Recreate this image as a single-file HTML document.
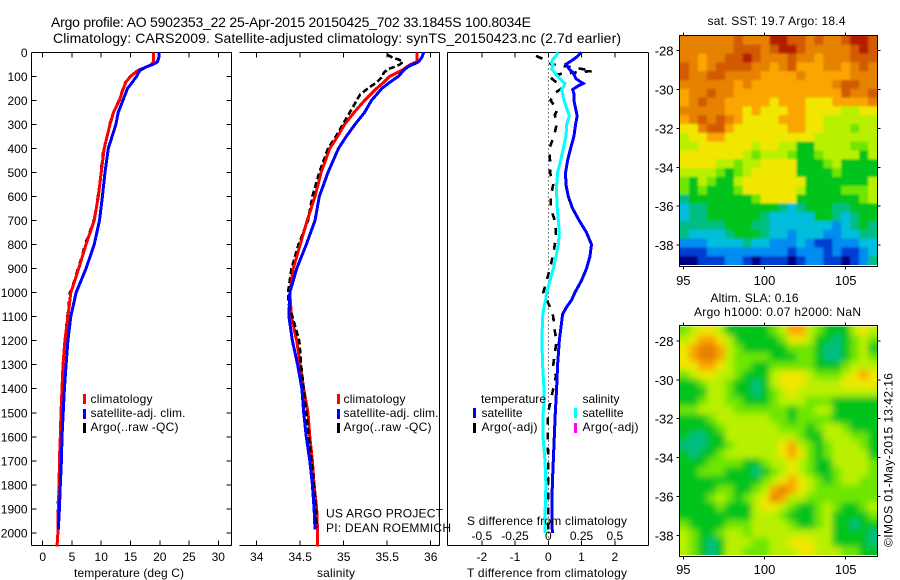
<!DOCTYPE html>
<html lang="en">
<head>
<meta charset="utf-8">
<title>Argo profile 5902353_22</title>
<style>
html,body{margin:0;padding:0;background:#fff;width:900px;height:580px;overflow:hidden}
svg{display:block;font-family:"Liberation Sans",sans-serif;font-size:12px;fill:#000}
text{fill:#000;stroke:none}
</style>
</head>
<body>
<svg id="figure" width="900" height="580" viewBox="0 0 900 580" xmlns="http://www.w3.org/2000/svg">
<defs>
<clipPath id="clip-sst"><rect x="680" y="36" width="197" height="229"/></clipPath>
<clipPath id="clip-sla"><rect x="680" y="326.5" width="197" height="228.5"/></clipPath>
<filter id="sst-smooth" filterUnits="userSpaceOnUse" x="640" y="10" width="280" height="280"><feGaussianBlur stdDeviation="1"/></filter>
<filter id="sla-smooth" filterUnits="userSpaceOnUse" x="640" y="290" width="280" height="300"><feGaussianBlur stdDeviation="3.2"/></filter>
</defs>
<text x="51" y="27" font-size="14" textLength="480">Argo profile: AO 5902353_22 25-Apr-2015 20150425_702 33.1845S 100.8034E</text>
<text x="53" y="43" font-size="14" textLength="568">Climatology: CARS2009. Satellite-adjusted climatology: synTS_20150423.nc (2.7d earlier)</text>

<g id="panel-t"></g>
<g id="panel-s"></g>
<g id="panel-d"></g>
<g id="map-sst"></g>
<g id="map-sla"></g>

<text x="74" y="577" textLength="110">temperature (deg C)</text>
<text x="317" y="577" textLength="38">salinity</text>
<text x="467" y="577" textLength="160">T difference from climatology</text>
<text x="467" y="525" textLength="160">S difference from climatology</text>
<text x="326" y="517.5" textLength="117">US ARGO PROJECT</text>
<text x="326" y="532" textLength="125">PI: DEAN ROEMMICH</text>

<g>
<rect x="83" y="394" width="3" height="10" fill="#f00"/>
<text x="90.5" y="403" textLength="62">climatology</text>
<rect x="83" y="409" width="3" height="10" fill="#00f"/>
<text x="90.5" y="417" textLength="95">satellite-adj. clim.</text>
<rect x="83" y="423" width="3" height="10" fill="#000"/>
<text x="90.5" y="431" textLength="88">Argo(..raw -QC)</text>
</g>
<g>
<rect x="337" y="394" width="3" height="10" fill="#f00"/>
<text x="343.5" y="403" textLength="62">climatology</text>
<rect x="337" y="409" width="3" height="10" fill="#00f"/>
<text x="343.5" y="417" textLength="95">satellite-adj. clim.</text>
<rect x="337" y="423" width="3" height="10" fill="#000"/>
<text x="343.5" y="431" textLength="88">Argo(..raw -QC)</text>
</g>
<g>
<text x="481" y="403" textLength="65">temperature</text>
<rect x="473" y="408" width="3" height="10" fill="#00f"/>
<text x="481.5" y="417" textLength="41">satellite</text>
<rect x="473" y="423" width="3" height="10" fill="#000"/>
<text x="481.5" y="431" textLength="56">Argo(-adj)</text>
<text x="582.5" y="403" textLength="37">salinity</text>
<rect x="574" y="408" width="3" height="10" fill="#0ff"/>
<text x="582.5" y="417" textLength="41">satellite</text>
<rect x="574" y="423" width="3" height="10" fill="#f0f"/>
<text x="582.5" y="431" textLength="56">Argo(-adj)</text>
</g>

<text x="707.5" y="25" textLength="138">sat. SST: 19.7 Argo: 18.4</text>
<text x="710.5" y="302" textLength="88">Altim. SLA: 0.16</text>
<text x="694" y="316" textLength="167">Argo h1000: 0.07 h2000: NaN</text>
<text transform="translate(892.5,547) rotate(-90)" x="0" y="0" textLength="174">©IMOS 01-May-2015 13:42:16</text>
</svg>

<script>
// ---------- profile data ----------
var tClimDepth = [0,40,50,60,75,100,125,150,200,250,300,400,500,600,700,800,900,1000,1100,1200,1300,1400,1500,1600,1700,1800,1900,2000,2056];
var tClimValue = [18.9,18.9,18.6,17.8,16.3,15.0,14.2,13.8,13.1,12.1,11.5,10.5,10.0,9.5,8.8,7.4,6.15,4.8,4.3,3.8,3.47,3.3,3.13,3.0,2.85,2.8,2.67,2.6,2.44];
var tSatDepth = [0,20,40,50,60,75,100,125,150,200,250,300,400,500,600,700,800,900,1000,1100,1200,1300,1400,1500,1600,1700,1800,1900,1985];
var tSatValue = [19.9,19.85,19.6,18.9,17.8,16.6,16.05,15.3,14.5,13.7,12.9,12.5,11.2,10.65,10.2,9.7,8.8,7.4,5.7,4.8,4.3,4.0,3.7,3.5,3.3,3.2,3.0,2.85,2.67];
var tArgoDepth = [60,75,100,125,150,200,250,300,350,400,450,500,550,600,650,700,750,800,850,900,950,1000,1100,1200,1300,1400,1500,1600,1700,1800,1900,1990];
var tArgoValue = [17.6,16.5,15.0,14.1,13.7,13.0,12.1,11.4,11.0,10.4,10.1,9.95,9.7,9.4,9.15,8.7,8.0,7.2,6.7,6.0,5.4,4.65,4.2,3.75,3.42,3.25,3.08,2.95,2.8,2.75,2.55,2.55];

var sClimDepth = [0,40,50,75,100,125,150,200,250,300,350,400,500,600,700,800,900,1000,1100,1200,1300,1400,1500,1600,1700,1800,1900,2000,2056];
var sClimValue = [35.84,35.84,35.77,35.67,35.53,35.46,35.38,35.24,35.12,35.01,34.93,34.84,34.74,34.67,34.58,34.5,34.42,34.38,34.4,34.46,34.5,34.54,34.59,34.61,34.64,34.66,34.69,34.7,34.7];
var sSatDepth = [0,20,40,60,75,100,125,150,200,250,300,350,400,500,600,700,800,900,1000,1100,1200,1300,1400,1500,1600,1700,1800,1900,1985];
var sSatValue = [35.92,35.9,35.86,35.74,35.69,35.63,35.53,35.44,35.32,35.24,35.13,35.03,34.94,34.82,34.72,34.67,34.57,34.46,34.38,34.37,34.41,34.47,34.52,34.54,34.57,34.61,34.64,34.66,34.67];
var sArgoDepth = [10,20,30,40,50,60,70,85,100,125,150,175,200,250,300,350,400,450,500,600,700,800,900,1000,1050,1100,1200,1300,1400,1500,1600,1700,1800,1900,1980];
var sArgoValue = [35.5,35.55,35.63,35.68,35.65,35.59,35.51,35.46,35.45,35.38,35.28,35.19,35.15,35.07,34.99,34.91,34.82,34.77,34.72,34.64,34.59,34.48,34.4,34.36,34.37,34.41,34.49,34.51,34.54,34.57,34.6,34.63,34.66,34.68,34.69];

var dTSatDepth = [0,20,35,50,70,85,110,130,140,155,175,200,220,265,300,350,400,450,500,550,600,650,700,750,800,850,900,950,1000,1031,1060,1090,1200,1300,1400,1500,1600,1700,1800,1900,2000];
var dTSatValue = [1.0,.85,.7,.53,.63,.75,.83,1.05,.9,.73,.78,.77,.8,.87,.82,.77,.67,.58,.52,.53,.6,.73,.93,1.15,1.3,1.25,1.15,1.0,.8,.7,.55,.43,.33,.28,.25,.21,.18,.15,.12,.11,.12];
var dSSatDepth = [0,15,30,45,55,70,85,110,130,140,155,175,200,225,265,300,350,400,450,500,550,600,650,700,750,800,850,900,950,1000,1031,1060,1100,1200,1300,1400,1450,1500,1600,1700,1800,1900,2000];
var dSSatValue = [.075,.058,.033,.025,.038,.025,.05,.088,.125,.118,.1,.108,.118,.133,.158,.138,.133,.113,.093,.07,.063,.063,.068,.075,.083,.075,.058,.038,.013,-.013,-.02,-.033,-.043,-.048,-.043,-.033,-.03,-.038,-.04,-.025,-.018,-.023,-.023];
var dTArgoDepth = [15,25,50,60,68,78,85,92,100,115,135,150,175,200,240,260,300,350,400,450,500,550,600,650,700,750,800,850,900,950,1000,1060,1100,1150,1200,1300,1350,1400,1500,1600,1700,1800,1900,2000];
var dTArgoValue = [-.37,-.2,.1,.6,.95,1.33,.75,.25,.03,.15,.33,.4,.15,.07,.27,.2,.25,.17,.03,.05,.05,.15,.07,.07,.2,.23,.2,.13,.05,-.05,-.15,.05,.15,.18,.25,.15,.23,.15,-.01,-.02,0,0,0,0];

// ---------- tick labels ----------
var depthTicks = [0,100,200,300,400,500,600,700,800,900,1000,1100,1200,1300,1400,1500,1600,1700,1800,1900,2000];
var tempTicks = [0,5,10,15,20,25,30];
var salTicks = [34,34.5,35,35.5,36];
var tDiffTicks = [-2,-1,0,1,2];
var sDiffTicks = [-0.5,-0.25,0,0.25,0.5];
var lonTicks = [95,100,105];
var latTicks = [28,30,32,34,36,38];

// ---------- SST map, colour level per cell (north to south) ----------
var sstGrid = [
[10,10,10,10,10,10,11,10,10,10,12,12,11,11,10,11,10,10,11,12,12,11],
[10,10,10,10,10,10,11,11,11,10,11,12,12,11,10,10,10,10,10,11,12,11],
[10,10,9,10,10,11,11,12,11,10,10,10,11,10,10,9,10,10,10,11,11,11],
[11,10,9,10,11,11,11,11,10,10,9,10,11,9,9,9,10,10,9,10,11,10],
[11,10,10,11,11,10,10,10,10,9,9,9,9,10,9,9,9,9,9,10,10,10],
[10,10,10,10,10,10,9,10,9,9,9,9,9,9,9,9,9,10,11,11,10,10],
[9,10,10,11,10,10,9,9,9,9,9,9,9,9,9,9,9,9,11,10,10,11],
[9,10,11,10,10,9,9,9,9,9,8,9,9,9,8,8,8,9,9,9,9,10],
[10,10,10,10,10,9,9,8,9,8,8,8,9,9,8,8,8,8,7,7,8,8],
[9,10,11,10,11,10,9,8,8,8,8,9,9,9,8,8,7,7,7,7,7,7],
[8,8,10,11,11,9,8,8,8,8,8,8,9,9,8,8,7,7,7,6,7,7],
[7,8,8,9,9,8,8,8,8,8,8,8,8,8,8,7,7,7,7,7,7,7],
[7,7,8,8,8,8,8,8,7,8,8,7,7,5,5,7,7,7,7,6,6,7],
[8,8,8,8,8,8,8,7,6,7,7,7,6,5,5,6,7,7,7,7,5,7],
[8,8,8,8,7,7,6,7,7,8,8,8,8,5,5,5,6,7,5,5,5,5],
[7,7,7,7,6,5,6,7,8,8,8,8,8,5,5,5,5,6,5,5,5,5],
[6,5,7,6,5,5,7,8,8,8,8,8,8,8,5,5,5,5,5,5,5,7],
[6,5,6,5,5,5,6,8,8,8,8,8,8,7,5,5,5,5,6,6,6,7],
[4,5,5,5,5,5,5,5,6,8,8,8,8,5,5,5,5,5,5,5,6,7],
[3,4,4,5,5,5,5,5,5,5,5,4,3,4,5,5,5,4,4,5,5,5],
[3,4,4,5,5,5,5,5,5,4,3,3,3,3,3,5,5,4,3,4,5,5],
[4,4,4,4,4,5,5,5,4,4,3,3,3,3,3,3,3,2,3,4,5,4],
[4,3,3,3,3,4,5,5,5,4,3,3,2,3,3,3,2,2,3,3,4,4],
[2,2,2,3,3,3,3,4,3,3,2,2,2,3,2,1,1,2,2,2,3,3],
[1,1,1,2,2,2,2,2,2,2,2,2,1,2,2,2,1,2,1,1,2,3],
[0,0,1,1,1,2,2,1,0,1,1,1,0,1,2,2,1,1,0,1,2,4]
];

// ---------- SLA map, colour level per cell (north to south) ----------
var slaGrid = [
[6,7,8,8,7,5,5,5,5,5,6,7,9,9,7,6,5,5,5,7,8,7],
[7,8,9,9,8,7,5,5,5,5,5,6,8,8,7,5,5,4,5,6,7,6],
[8,9,10,10,9,7,6,5,5,5,5,5,6,6,6,5,4,4,5,6,7,5],
[8,9,10,10,9,7,6,6,6,6,5,5,5,6,6,5,4,4,5,6,7,6],
[8,8,9,9,8,7,6,6,5,5,6,6,6,6,6,5,5,5,6,7,7,7],
[6,7,8,8,7,7,6,5,5,5,7,8,8,8,7,6,6,6,7,8,9,8],
[5,5,6,7,7,6,5,5,4,5,7,8,8,8,7,7,7,7,8,8,8,8],
[5,5,5,7,7,6,5,5,4,5,6,7,8,7,7,7,7,7,7,7,7,7],
[5,5,6,7,7,6,6,5,5,5,6,7,7,7,6,6,6,5,5,5,5,5],
[6,6,7,7,7,7,6,6,6,6,6,6,5,6,6,7,7,5,5,5,5,5],
[5,5,5,6,7,7,7,7,7,7,6,6,5,6,6,6,6,5,5,5,5,5],
[5,5,5,5,6,7,7,7,7,7,7,6,6,6,5,6,7,7,6,5,5,5],
[5,4,4,5,5,7,7,7,7,7,7,7,7,6,5,5,7,7,7,6,6,5],
[4,4,4,5,5,6,7,7,7,7,7,8,9,7,6,5,6,7,7,7,6,5],
[5,4,5,5,6,7,7,7,7,7,7,8,9,8,6,5,6,7,7,7,7,5],
[5,5,5,6,6,6,6,5,5,6,7,7,8,7,6,5,5,7,7,7,7,6],
[5,5,6,6,6,5,5,5,4,5,6,7,8,7,6,5,5,6,7,7,7,6],
[5,5,5,5,5,5,5,5,5,6,7,8,9,8,7,6,5,6,7,7,6,6],
[5,5,5,5,6,6,5,5,6,7,9,10,9,8,7,6,6,6,6,6,6,6],
[5,5,5,6,7,6,5,6,7,8,10,9,7,7,6,6,6,6,6,6,6,6],
[5,5,5,5,6,5,5,5,7,8,8,7,6,5,5,6,7,6,5,5,6,7],
[5,5,5,5,5,5,5,5,7,7,7,6,5,5,5,6,7,5,5,5,5,6],
[6,5,5,5,5,6,6,6,7,7,7,7,6,5,5,6,7,5,5,4,5,5],
[7,6,5,5,6,7,7,6,7,7,7,7,7,7,7,7,7,5,5,5,5,4],
[7,6,5,4,5,7,7,7,6,6,7,7,8,8,8,7,7,5,5,5,5,4],
[7,6,5,4,5,7,7,6,6,6,7,7,7,8,8,7,7,7,6,6,5,5]
];

var levelColors = ["#000082","#003cd2","#008cf0","#00bedc","#00be82","#00c31e","#6ee600","#b9f000","#f0e600","#fba500","#e68200","#d25a00","#b41e00"];

// ---------- axis functions ----------
function yDepth(d){ return 52.3 + d * 0.2403; }
function xTemp(v){ return 42.7 + v * 5.853; }
function xSal(v){ return 256.7 + (v - 34) * 87; }
function xTDiff(v){ return 548.3 + v * 33.25; }
function xSDiff(v){ return 548.3 + v * 133; }
function xLon(v){ return 683.3 + (v - 95) * 16.24; }
function lonFromIndex(i){ return 94.8 + i * (12.13 / 22); }
function latSstY(v){ return 50.7 + (v - 28) * 19.43; }
function latSlaY(v){ return 341 + (v - 28) * 19.43; }
function latFromIndex(j, rows){ return 27.24 + j * (11.79 / rows); }

// ---------- builders ----------
var NS = "http://www.w3.org/2000/svg";
function mk(parent, tag, attrs, text){
  var n = document.createElementNS(NS, tag);
  for (var k in attrs) n.setAttribute(k, attrs[k]);
  if (text !== undefined) n.textContent = text;
  parent.appendChild(n);
  return n;
}
function profile(parent, xs, ys, xf, color, width, dash){
  var pts = [];
  for (var i = 0; i < xs.length; i++) pts.push(xf(xs[i]).toFixed(1) + "," + yDepth(ys[i]).toFixed(1));
  var attrs = {points: pts.join(" "), fill: "none", stroke: color, "stroke-width": width, "stroke-linejoin": "miter", "shape-rendering": "crispEdges"};
  if (dash) attrs["stroke-dasharray"] = dash;
  return mk(parent, "polyline", attrs);
}
function panelFrame(parent, x0, x1, yTop, yBot, left, right){
  var f = mk(parent, "path", {d: "M" + x0 + " " + yTop + "H" + x1 + "M" + x0 + " " + yBot + "H" + x1 +
    (left ? "M" + x0 + " " + yTop + "V" + yBot : "") + (right ? "M" + x1 + " " + yTop + "V" + yBot : ""),
    fill: "none", stroke: "#000", "stroke-width": 1, "shape-rendering": "crispEdges"});
  return f;
}
function xTick(parent, x, yTop, yBot){
  return mk(parent, "path", {d: "M" + x.toFixed(1) + " " + yTop + "v5M" + x.toFixed(1) + " " + yBot + "v-5", stroke: "#000", "stroke-width": 1, fill: "none", "shape-rendering": "crispEdges"});
}

var panelT = document.getElementById("panel-t");
var panelS = document.getElementById("panel-s");
var panelD = document.getElementById("panel-d");
var TOP = 52.5, BOT = 545.5;

// temperature panel
var frameT = panelFrame(panelT, 31.5, 231.5, TOP, BOT, true, true);


depthTicks.forEach(function(d){
  var y = yDepth(d);
  var t = mk(panelT, "path", {d: "M31.5 " + y.toFixed(1) + "h5M231.5 " + y.toFixed(1) + "h-5", stroke: "#000", "stroke-width": 1, fill: "none", "shape-rendering": "crispEdges"});
  
  
  var l = mk(panelT, "text", {x: 27.5, y: (y + 4.5).toFixed(1), "text-anchor": "end"}, d);
  
  
});
tempTicks.forEach(function(v){
  var x = xTemp(v);
  var t = xTick(panelT, x, TOP, BOT);
  
  
  var l = mk(panelT, "text", {x: x.toFixed(1), y: 561, "text-anchor": "middle"}, v);
  
  
});
var tArgoLine = profile(panelT, tArgoValue, tArgoDepth, xTemp, "#000", 2.4, "5 6");


var tClimLine = profile(panelT, tClimValue, tClimDepth, xTemp, "#f00", 3);


var tSatLine = profile(panelT, tSatValue, tSatDepth, xTemp, "#00f", 3);



// salinity panel
var frameS = panelFrame(panelS, 239.5, 439.5, TOP, BOT, false, true);


salTicks.forEach(function(v){
  var x = xSal(v);
  var t = xTick(panelS, x, TOP, BOT);
  
  
  var l = mk(panelS, "text", {x: x.toFixed(1), y: 561, "text-anchor": "middle"}, v);
  
  
});
var sClimLine = profile(panelS, sClimValue, sClimDepth, xSal, "#f00", 3);


var sArgoLine = profile(panelS, sArgoValue, sArgoDepth, xSal, "#000", 2.6, "6 3");


var sClimOver = profile(panelS, sClimValue.slice(0, 18), sClimDepth.slice(0, 18), xSal, "#f00", 2.4);


var sSatLine = profile(panelS, sSatValue, sSatDepth, xSal, "#00f", 3);



// difference panel
var frameD = panelFrame(panelD, 447.5, 648.5, TOP, BOT, true, true);


tDiffTicks.forEach(function(v){
  var x = xTDiff(v);
  var t = xTick(panelD, x, TOP, BOT);
  
  
  var l = mk(panelD, "text", {x: x.toFixed(1), y: 561, "text-anchor": "middle"}, v);
  
  
});
sDiffTicks.forEach(function(v){
  var l = mk(panelD, "text", {x: xSDiff(v).toFixed(1), y: 540, "text-anchor": "middle"}, v);
  
  
});
var zeroLine = mk(panelD, "line", {x1: xTDiff(0), x2: xTDiff(0), y1: yDepth(0), y2: yDepth(2056), stroke: "#000", "stroke-width": 1, "stroke-dasharray": "1 3", "shape-rendering": "crispEdges"});


var dTArgoLine = profile(panelD, dTArgoValue, dTArgoDepth, xTDiff, "#000", 2.6, "7 8");


var dTSatLine = profile(panelD, dTSatValue, dTSatDepth, xTDiff, "#00f", 3);


var dSSatLine = profile(panelD, dSSatValue, dSSatDepth, xSDiff, "#0ff", 3);



// maps
function drawMap(parent, grid, latY, clipId, yFrameTop, yFrameBot, labelY, bleed, filterId){
  var g = mk(parent, "g", {"clip-path": "url(#" + clipId + ")"});
  
  
  var inner = mk(g, "g", filterId ? {filter: "url(#" + filterId + ")"} : {});
  
  
  var rows = grid.length;
  for (var j = 0; j < rows; j++){
    for (var i = 0; i < grid[j].length; i++){
      var x0 = xLon(lonFromIndex(i)), x1 = xLon(lonFromIndex(i + 1));
      var y0 = latY(latFromIndex(j, rows)), y1 = latY(latFromIndex(j + 1, rows));
      if (i === 0) x0 -= bleed;
      if (i === grid[j].length - 1) x1 += bleed;
      if (j === 0) y0 -= bleed;
      if (j === rows - 1) y1 += bleed;
      var c = mk(inner, "rect", {x: x0.toFixed(2), y: y0.toFixed(2), width: (x1 - x0 + 0.4).toFixed(2), height: (y1 - y0 + 0.4).toFixed(2), fill: levelColors[Math.max(0, Math.min(levelColors.length - 1, Math.round(grid[j][i])))]});
      
      
    }
  }
  var fr = mk(parent, "rect", {x: 679.5, y: yFrameTop, width: 198, height: yFrameBot - yFrameTop, fill: "none", stroke: "#000", "stroke-width": 1, "shape-rendering": "crispEdges"});
  
  
  lonTicks.forEach(function(v){
    var x = xLon(v).toFixed(1);
    var t = mk(parent, "path", {d: "M" + x + " " + yFrameTop + "v-3M" + x + " " + yFrameBot + "v3", stroke: "#000", "stroke-width": 1, fill: "none", "shape-rendering": "crispEdges"});
    
    
    var l = mk(parent, "text", {x: x, y: labelY, "text-anchor": "middle", "font-size": 13}, v);
    
    
  });
  latTicks.forEach(function(v){
    var y = latY(v);
    var t = mk(parent, "path", {d: "M679.5 " + y.toFixed(1) + "h-3M877.5 " + y.toFixed(1) + "h3", stroke: "#000", "stroke-width": 1, fill: "none", "shape-rendering": "crispEdges"});
    
    
    var l = mk(parent, "text", {x: 673.5, y: (y + 5).toFixed(1), "text-anchor": "end", "font-size": 13}, "-" + v);
    
    
  });
}
drawMap(document.getElementById("map-sst"), sstGrid, latSstY, "clip-sst", 35.5, 266.5, 285, 5, "sst-smooth");
drawMap(document.getElementById("map-sla"), slaGrid, latSlaY, "clip-sla", 325.5, 556.5, 574, 14, "sla-smooth");
</script>
</body>
</html>
